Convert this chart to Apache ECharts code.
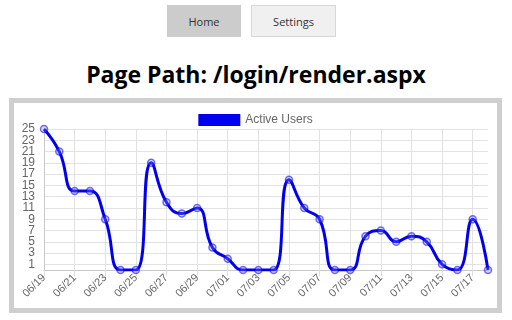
<!DOCTYPE html>
<html>
<head>
<meta charset="utf-8">
<script src="https://cdn.jsdelivr.net/npm/echarts@6/dist/echarts.min.js"></script>
<style>
  html, body { margin: 0; padding: 0; background: #fff; width: 512px; height: 320px; overflow: hidden; }
  .btn { position: absolute; top: 5px; height: 32px; box-sizing: border-box; font-family: "Open Sans", "Noto Sans", sans-serif; font-size: 11px; color: #333; display: flex; align-items: center; justify-content: center; }
  #home { left: 167px; width: 74px; background: #cccccc; }
  #settings { left: 251px; width: 85px; background: #f0f0f0; border: 1px solid #d8d8d8; }
  #title { position: absolute; left: 0; width: 512px; top: 60px; text-align: center; font-family: "Open Sans", "Noto Sans", sans-serif; font-weight: bold; font-size: 23px; color: #000; line-height: 28px; }
  #box { position: absolute; left: 9px; top: 98px; width: 493px; height: 215px; box-sizing: border-box; border: 5px solid #cfcfcf; background: #fff; }
  #chart { position: absolute; left: 0; top: 0; width: 483px; height: 205px; }
</style>
</head>
<body>
<div class="btn" id="home">Home</div>
<div class="btn" id="settings">Settings</div>
<div id="title">Page Path: /login/render.aspx</div>
<div id="box"><div id="chart"></div></div>
<script>
const categories = ["06/19","06/20","06/21","06/22","06/23","06/24","06/25","06/26","06/27","06/28","06/29","06/30",
  "07/01","07/02","07/03","07/04","07/05","07/06","07/07","07/08","07/09","07/10","07/11","07/12","07/13","07/14",
  "07/15","07/16","07/17","07/18"];
const activeUsers = [25,21,14,14,9,0,0,19,12,10,11,4,2,0,0,0,16,11,9,0,0,6,7,5,6,5,1,0,9,0];
const seriesName = "Active Users";
const yMin = 0, yMax = 25;

const chart = echarts.init(document.getElementById('chart'), null, { renderer: 'canvas' });
const font = '"Liberation Sans", Arial, sans-serif';
chart.setOption({
  animation: false,
  legend: {
    data: [seriesName],
    top: 6,
    left: 'center',
    icon: 'rect',
    itemWidth: 42,
    itemHeight: 12,
    itemGap: 10,
    textStyle: { color: '#666', fontSize: 12, fontFamily: font },
    itemStyle: { color: '#0000ee', borderWidth: 0 }
  },
  grid: { left: 30, top: 26, right: 9, bottom: 38, containLabel: false },
  xAxis: {
    type: 'category',
    data: categories,
    boundaryGap: false,
    axisLine: { show: true, lineStyle: { color: '#c8c8c8', width: 1 } },
    axisTick: { show: true, interval: 1, length: 6, lineStyle: { color: '#ddd' } },
    axisLabel: { interval: 1, rotate: 45, margin: 6, color: '#666', fontSize: 11, fontFamily: font },
    splitLine: { show: true, interval: 1, lineStyle: { color: '#e2e2e2', width: 1 } }
  },
  yAxis: {
    type: 'value',
    min: yMin,
    max: yMax,
    interval: 1,
    axisLine: { show: true, lineStyle: { color: '#c8c8c8', width: 1 } },
    axisTick: { show: false },
    axisLabel: {
      margin: 9, color: '#666', fontSize: 12, fontFamily: font,
      formatter: v => (v % 2 === 1 ? String(v) : '')
    },
    splitLine: { show: true, lineStyle: { color: ['rgba(0,0,0,0)', '#e2e2e2'], width: 1 } }
  },
  series: [{
    name: seriesName,
    type: 'line',
    data: activeUsers,
    smooth: 0.5,
    symbol: 'circle',
    symbolSize: 7,
    showAllSymbol: true,
    lineStyle: { color: '#0000ee', width: 3 },
    itemStyle: { color: 'rgba(130,130,255,0.3)', borderColor: 'rgba(0,0,230,0.55)', borderWidth: 1.5 }
  }]
});
</script>
</body>
</html>
